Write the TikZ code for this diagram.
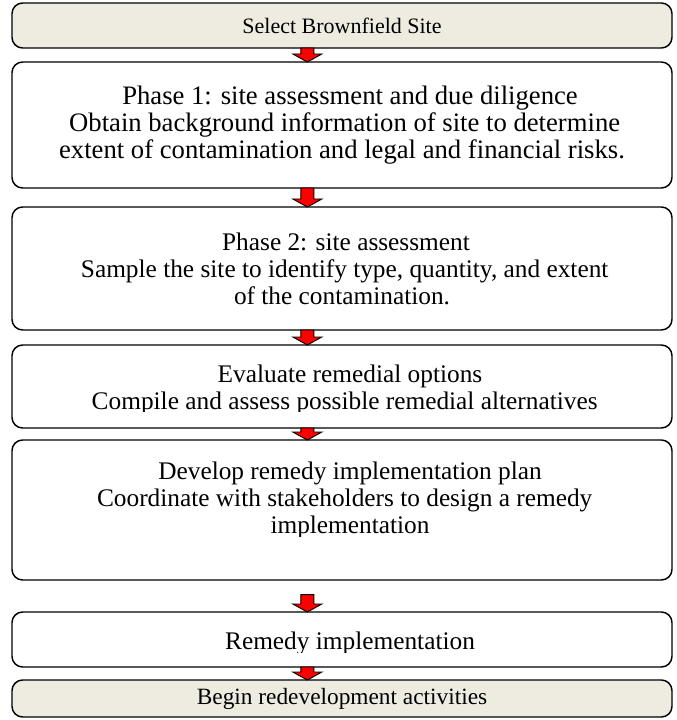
\documentclass[tikz,border=0pt]{standalone}
\usepackage{fontspec}
\setmainfont{Liberation Serif}
\usetikzlibrary{positioning, calc}
\definecolor{siteTan}{HTML}{EEECE1}
\tikzset{
    % Boxes
    stage/.style={rectangle, draw=black, line width=1.1pt, rounded corners=8pt,
                  minimum width=495pt, inner sep=0pt, outer sep=0pt, align=center, fill=white,
                  font=\fontsize{19}{20.25}\selectfont},
    stageTan/.style={stage, fill=siteTan},
    stageText/.style={inner sep=0pt, align=center, font=\fontsize{19}{20.25}\selectfont},
    % Block arrow between stages
    downArrow/.style={draw=black, fill=red, line width=0.7pt, to path={
        let \p1=(\tikztostart), \p2=(\tikztotarget) in
        (\x1-4.9pt,\y1) -- (\x1+4.9pt,\y1) -- (\x1+4.9pt,\y2+6pt)
        -- (\x1+10.9pt,\y2+6pt) -- (\x1,\y2) -- (\x1-10.9pt,\y2+6pt)
        -- (\x1-4.9pt,\y2+6pt) -- cycle}}
}

\begin{document}
\begin{tikzpicture}
\useasboundingbox (0,0) rectangle (507.75pt,-540pt);

\node[stageTan, anchor=north, minimum height=33.75pt, font=\fontsize{16.5}{18}\selectfont]
    (select) at (256.5pt,-2.25pt) {Select Brownfield Site};
\node[stage, minimum height=94.5pt, below=10.5pt of select, font=\fontsize{20}{20.25}\selectfont] (phase1)
    {\hspace*{12pt}Phase 1: site assessment and due diligence\\
     \hspace*{4pt}Obtain background information of site to determine\\
     extent of contamination and legal and financial risks.};
\node[stage, minimum height=92.25pt, below=14.25pt of phase1] (phase2)
    {\hspace*{6pt}Phase 2: site assessment\\
     \hspace*{4pt}Sample the site to identify type, quantity, and extent\\
     of the contamination.};
\node[stage, minimum height=62.25pt, below=11.25pt of phase2] (evaluate) {};
\node[stage, minimum height=105pt, below=9pt of evaluate] (develop) {};
\node[stage, minimum height=41.25pt, below=24pt of develop] (remedy) {};
\node[stageTan, minimum height=27.75pt, below=9.75pt of remedy, font=\fontsize{17.5}{19}\selectfont]
    (begin) {Begin redevelopment activities};

% texts cut off at the bottom
\begin{scope}
    \clip (evaluate.south west) ++(0,12.7pt) rectangle (evaluate.north east);
    \node[stageText, anchor=south] (evaluateText) at ([yshift=10pt]evaluate.south)
        {\hspace*{12pt}Evaluate remedial options\\ \hspace*{4pt}Compile and assess possible remedial alternatives};
\end{scope}
\begin{scope}
    \clip (develop.south west) ++(0,32.8pt) rectangle (develop.north east);
    \node[stageText, anchor=south] (developText) at ([yshift=30.3pt]develop.south)
        {\hspace*{12pt}Develop remedy implementation plan\\
         \hspace*{4pt}Coordinate with stakeholders to design a remedy\\ \hspace*{12pt}implementation};
\end{scope}
\begin{scope}
    \clip (remedy.south west) ++(0,11.2pt) rectangle (remedy.north east);
    \node[stageText, anchor=south] (remedyText) at ([yshift=8.5pt]remedy.south)
        {\hspace*{12pt}Remedy implementation};
\end{scope}

% arrows
\draw[downArrow] ([xshift=-26pt]select.south) to ([xshift=-26pt]phase1.north);
\draw[downArrow] ([xshift=-26pt]phase1.south) to ([xshift=-26pt]phase2.north);
\draw[downArrow] ([xshift=-26pt]phase2.south) to ([xshift=-26pt]evaluate.north);
\draw[downArrow] ([xshift=-26pt]evaluate.south) to ([xshift=-26pt]develop.north);
\draw[downArrow] ([xshift=-26pt,yshift=-11pt]develop.south) to ([xshift=-26pt]remedy.north);
\draw[downArrow] ([xshift=-26pt]remedy.south) to ([xshift=-26pt]begin.north);

\end{tikzpicture}
\end{document}
